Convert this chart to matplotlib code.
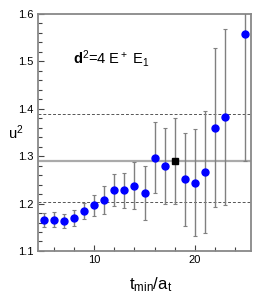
import matplotlib
matplotlib.use('Agg')
import matplotlib.pyplot as plt
from matplotlib.ticker import MultipleLocator

plt.rcParams['font.family'] = ['Liberation Sans', 'DejaVu Sans']
plt.rcParams['mathtext.fontset'] = 'custom'
plt.rcParams['mathtext.rm'] = 'Liberation Sans'
plt.rcParams['mathtext.it'] = 'Liberation Sans'
plt.rcParams['mathtext.bf'] = 'Liberation Sans:bold'

# fit values vs t_min
tmin = [5, 6, 7, 8, 9, 10, 11, 12, 13, 14, 15, 16, 17, 19, 20, 21, 22, 23, 25]
u2 = [1.165, 1.166, 1.164, 1.170, 1.185, 1.196, 1.207, 1.228, 1.228, 1.238, 1.223,
      1.297, 1.279, 1.251, 1.244, 1.266, 1.360, 1.383, 1.558]
u2_err = [0.015, 0.016, 0.015, 0.017, 0.017, 0.022, 0.030, 0.034, 0.037, 0.049, 0.057,
          0.075, 0.080, 0.098, 0.113, 0.129, 0.168, 0.185, 0.268]

# chosen fit
t_sel = [18]
u2_sel = [1.2905]
u2_sel_err = [0.091]
band_lo = 1.204
band_hi = 1.388

fig = plt.figure(figsize=(2.66, 2.97), dpi=100)
ax = fig.add_axes([0.143, 0.155, 0.801, 0.798])

ax.axhline(u2_sel[0], color='#aaaaaa', lw=1.6, zorder=1)
ax.axhline(band_lo, color='#555555', lw=0.7, ls=(0, (3, 2)), zorder=1)
ax.axhline(band_hi, color='#555555', lw=0.7, ls=(0, (3, 2)), zorder=1)

ax.errorbar(tmin, u2, yerr=u2_err, fmt='o', color='#0000ff', ms=5,
            ecolor='#808080', elinewidth=1.0, capsize=1.5, capthick=0.8, zorder=3)
ax.errorbar(t_sel, u2_sel, yerr=u2_sel_err, fmt='s', color='black', ms=5,
            ecolor='#808080', elinewidth=1.0, capsize=1.5, capthick=0.8, zorder=4)

ax.set_xlim(4.43, 25.57)
ax.set_ylim(1.1, 1.6)
ax.xaxis.set_major_locator(MultipleLocator(10))
ax.xaxis.set_minor_locator(MultipleLocator(2))
ax.yaxis.set_major_locator(MultipleLocator(0.1))
ax.yaxis.set_minor_locator(MultipleLocator(0.02))
ax.yaxis.set_major_formatter(matplotlib.ticker.FormatStrFormatter('%.1f'))
ax.tick_params(which='both', direction='in', top=False, right=False,
               color='#444444', labelsize=8, pad=3)
ax.tick_params(which='major', length=4, width=0.8)
ax.tick_params(which='minor', length=3, width=0.8)
for s in ax.spines.values():
    s.set_color('#888888')
    s.set_linewidth(1.3)

ax.text(0.164, 0.79, r'$\mathbf{d}^2$=4 E$^+$ E$_1$', transform=ax.transAxes,
        fontsize=10.5, va='baseline', ha='left')
fig.text(0.06, 1 - 133 / 297, r'u$^2$', fontsize=10.5, ha='center', va='center')
fig.text(0.565, 1 - 289 / 297, r't$_{\rm min}$/a$_{\rm t}$', fontsize=12,
         ha='center', va='baseline')

fig.savefig('out.png', dpi=100)
